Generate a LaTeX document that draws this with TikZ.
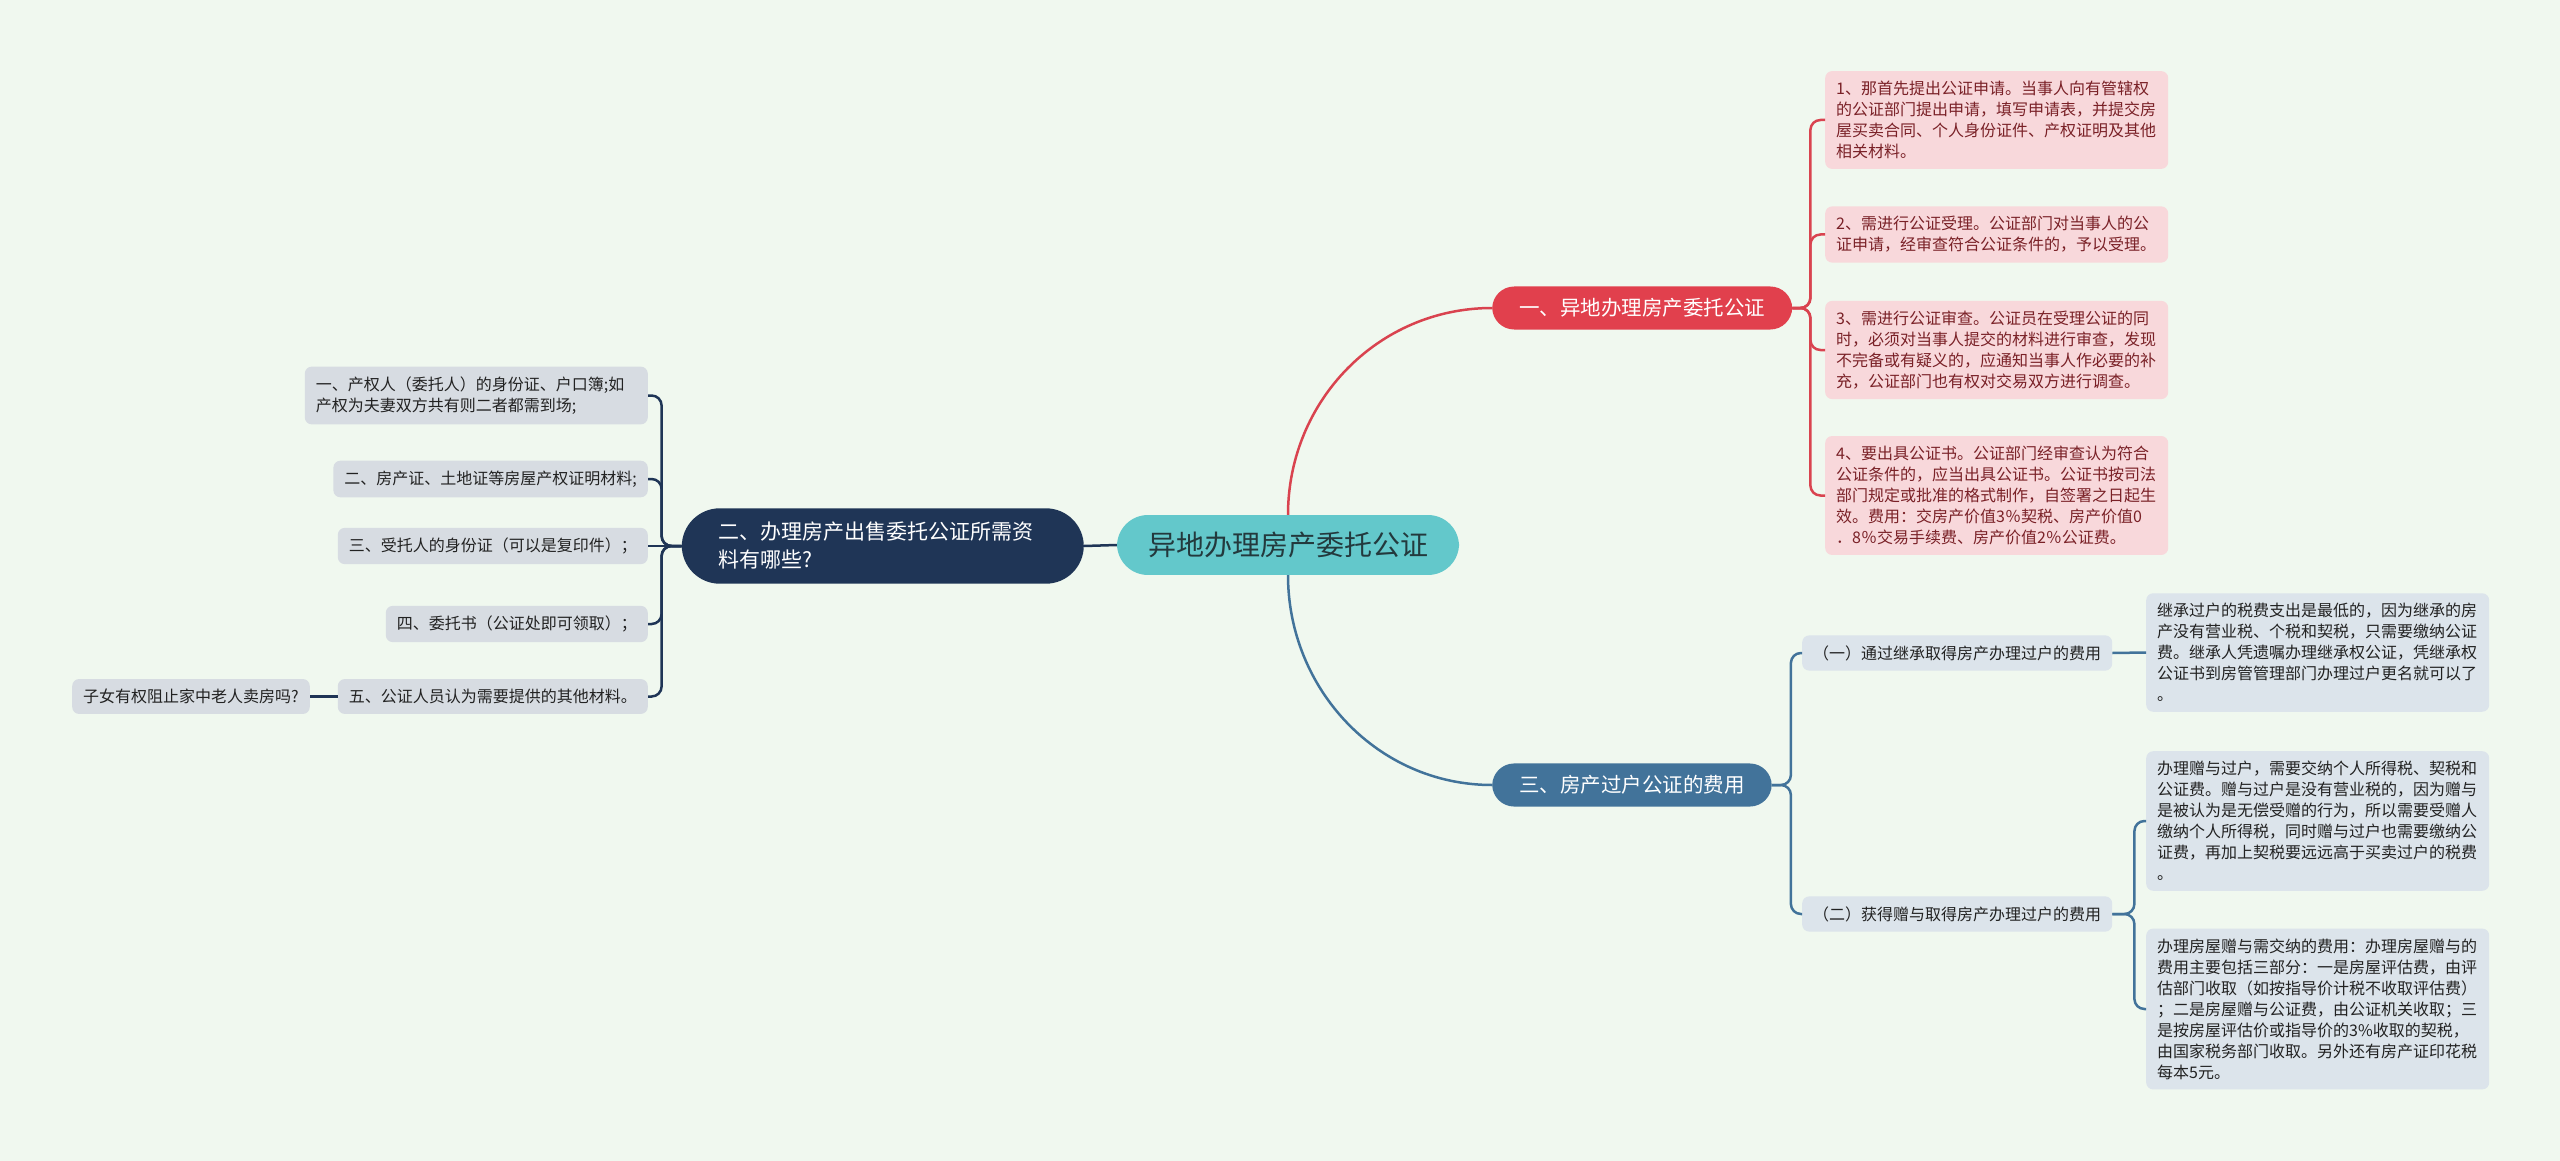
\documentclass[tikz,border=0pt]{standalone}
\usepackage{fontspec}
\setmainfont{Noto Sans CJK SC}

\definecolor{bgmint}{HTML}{F0F8EF}
\definecolor{rootteal}{HTML}{63C8CB}
\definecolor{roottext}{HTML}{23393D}
\definecolor{redtopic}{HTML}{E1404D}
\definecolor{redline}{HTML}{D9434F}
\definecolor{pinkfill}{HTML}{F8D8DB}
\definecolor{pinktext}{HTML}{7A2127}
\definecolor{navy}{HTML}{1F3556}
\definecolor{grayfill}{HTML}{D7DCE2}
\definecolor{darktext}{HTML}{222222}
\definecolor{steel}{HTML}{42739A}
\definecolor{palefill}{HTML}{DCE4EB}

\begin{document}
\begin{tikzpicture}[
        x=1pt, y=-1pt,
        topic/.style={
            fill=rootteal,
            text=roottext,
            rounded corners=31pt,
            inner xsep=31pt,
            inner ysep=17pt,
            font=\fontsize{28}{34}\selectfont
        },
        branch/.style={
            text=white,
            rounded corners=22pt,
            inner xsep=27pt,
            inner ysep=12pt,
            anchor=west,
            font=\fontsize{20.5}{26}\selectfont
        },
        asknode/.style={
            fill=navy,
            text=white,
            align=left,
            text width=328pt,
            rounded corners=38pt,
            inner xsep=37pt,
            inner ysep=14pt,
            font=\fontsize{21}{28}\selectfont
        },
        leaf/.style={
            rounded corners=7pt,
            align=left,
            inner xsep=11pt,
            inner ysep=10pt,
            font=\fontsize{16}{21}\selectfont
        },
        widebox/.style={leaf, text width=321pt},
        pinkbox/.style={widebox, fill=pinkfill, text=pinktext, anchor=west},
        graybox/.style={leaf, fill=grayfill, text=darktext},
        palebox/.style={leaf, fill=palefill, text=darktext, anchor=west},
        link/.style={line width=2.5pt, rounded corners=10pt}
    ]
        \useasboundingbox[fill=bgmint] (0,0) rectangle (2560,1161);

        \node[topic] (root) at (1288,545) {异地办理房产委托公证};

        \node[asknode, anchor=east] (ask) at (1084,546)
            {二、办理房产出售委托公证所需资\\料有哪些?};
        \node[graybox, widebox, anchor=east] (m1) at (648,395.5)
            {一、产权人（委托人）的身份证、户口簿;如\\产权为夫妻双方共有则二者都需到场;};
        \node[graybox, anchor=east] (m2) at (648,479)
            {二、房产证、土地证等房屋产权证明材料;};
        \node[graybox, anchor=east] (m3) at (648,546)
            {三、受托人的身份证（可以是复印件）；};
        \node[graybox, anchor=east] (m4) at (648,624)
            {四、委托书（公证处即可领取）；};
        \node[graybox, anchor=east] (m5) at (648,696.5)
            {五、公证人员认为需要提供的其他材料。};
        \node[graybox, anchor=east] (kids) at (310,696.5)
            {子女有权阻止家中老人卖房吗?};

        \node[branch, fill=redtopic] (deed) at (1492,308) {一、异地办理房产委托公证};
        \node[pinkbox] (r1) at (1825,120)
            {1、那首先提出公证申请。当事人向有管辖权\\的公证部门提出申请，填写申请表，并提交房\\屋买卖合同、个人身份证件、产权证明及其他\\相关材料。};
        \node[pinkbox] (r2) at (1825,234.5)
            {2、需进行公证受理。公证部门对当事人的公\\证申请，经审查符合公证条件的，予以受理。};
        \node[pinkbox] (r3) at (1825,350)
            {3、需进行公证审查。公证员在受理公证的同\\时，必须对当事人提交的材料进行审查，发现\\不完备或有疑义的，应通知当事人作必要的补\\充，公证部门也有权对交易双方进行调查。};
        \node[pinkbox] (r4) at (1825,495.5)
            {4、要出具公证书。公证部门经审查认为符合\\公证条件的，应当出具公证书。公证书按司法\\部门规定或批准的格式制作，自签署之日起生\\效。费用：交房产价值3％契税、房产价值0\\．8％交易手续费、房产价值2％公证费。};

        \node[branch, fill=steel] (fees) at (1492,785) {三、房产过户公证的费用};
        \node[palebox] (b1) at (1802,653) {（一）通过继承取得房产办理过户的费用};
        \node[palebox] (b2) at (1802,914) {（二）获得赠与取得房产办理过户的费用};
        \node[palebox, widebox] (n1) at (2146,652.5)
            {继承过户的税费支出是最低的，因为继承的房\\产没有营业税、个税和契税，只需要缴纳公证\\费。继承人凭遗嘱办理继承权公证，凭继承权\\公证书到房管管理部门办理过户更名就可以了\\。};
        \node[palebox, widebox] (n2) at (2146,821)
            {办理赠与过户，需要交纳个人所得税、契税和\\公证费。赠与过户是没有营业税的，因为赠与\\是被认为是无偿受赠的行为，所以需要受赠人\\缴纳个人所得税，同时赠与过户也需要缴纳公\\证费，再加上契税要远远高于买卖过户的税费\\。};
        \node[palebox, widebox] (n3) at (2146,1009)
            {办理房屋赠与需交纳的费用：办理房屋赠与的\\费用主要包括三部分：一是房屋评估费，由评\\估部门收取（如按指导价计税不收取评估费）\\；二是房屋赠与公证费，由公证机关收取；三\\是按房屋评估价或指导价的3\%收取的契税，\\由国家税务部门收取。另外还有房产证印花税\\每本5元。};

        \draw[link, navy] (root.west) -- (ask.east);
        \draw[link, redline] (root.north) to[out=90, in=180] (deed.west);
        \draw[link, steel] (root.south) to[out=-90, in=180] (fees.west);

        \foreach \n in {m1,m2,m4,m5}
            \draw[link, navy] (ask.west) -- ++(-20,0) |- (\n.east);
        \draw[link, navy] (ask.west) -- (m3.east);
        \draw[link, navy] (m5.west) -- (kids.east);

        \foreach \n in {r1,r2,r3,r4}
            \draw[link, redline] (deed.east) -- ++(18,0) |- (\n.west);

        \foreach \n in {b1,b2}
            \draw[link, steel] (fees.east) -- ++(19,0) |- (\n.west);
        \draw[link, steel] (b1.east) -- (n1.west);
        \foreach \n in {n2,n3}
            \draw[link, steel] (b2.east) -- ++(22,0) |- (\n.west);
    \end{tikzpicture}
\end{document}
